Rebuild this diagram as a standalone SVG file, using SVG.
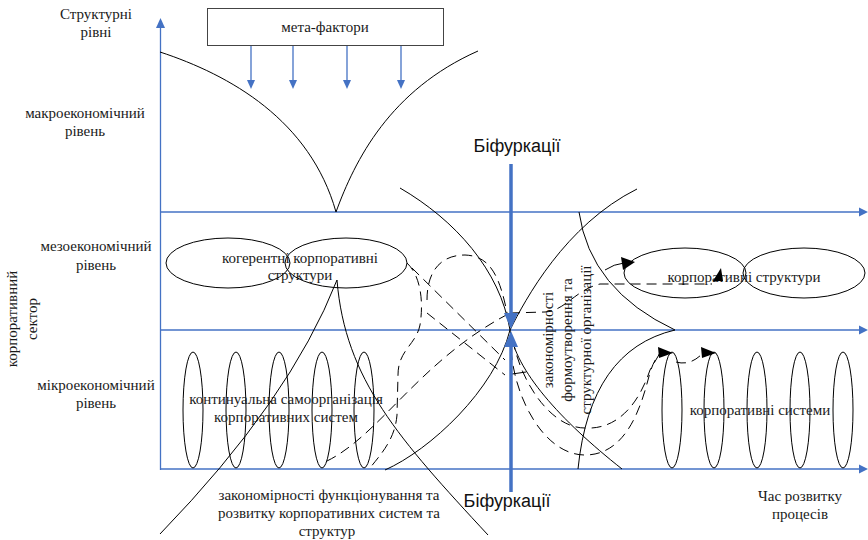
<svg xmlns="http://www.w3.org/2000/svg" width="868" height="540" viewBox="0 0 868 540">
<defs>
<style>
.t{font-family:"Liberation Serif","Times New Roman",serif;font-size:15px;fill:#1a1a1a;text-anchor:middle}
.a{font-family:"Liberation Sans",Arial,sans-serif;font-size:18px;fill:#111;text-anchor:middle}
.ax{stroke:#4472C4;stroke-width:1.3;fill:none}
.bl{fill:#4472C4;stroke:none}
.s{stroke:#000;stroke-width:1;fill:none}
.d{stroke:#000;stroke-width:1;fill:none;stroke-dasharray:10 6}
.e{stroke:#000;stroke-width:1;fill:none}
.ah{fill:#000;stroke:none}
</style>
</defs>
<rect width="868" height="540" fill="#fff"/>

<g id="axes">
<line class="ax" x1="160.5" y1="470" x2="160.5" y2="26"/>
<polygon class="bl" points="160.5,18 156,28 165,28"/>
<line class="ax" x1="160" y1="212" x2="860" y2="212"/>
<polygon class="bl" points="868,212 859,207.5 859,216.5"/>
<line class="ax" x1="160" y1="330" x2="860" y2="330"/>
<polygon class="bl" points="868,330 859,325.5 859,334.5"/>
<line class="ax" x1="160" y1="469" x2="860" y2="469"/>
<polygon class="bl" points="868,469 859,464.5 859,473.5"/>
</g>

<g id="labels">
<text class="t" x="96" y="19">Структурні</text>
<text class="t" x="96" y="37">рівні</text>
<text class="t" x="85" y="118">макроекономічний</text>
<text class="t" x="85" y="136">рівень</text>
<text class="t" x="96" y="251">мезоекономічний</text>
<text class="t" x="96" y="270">рівень</text>
<text class="t" x="96" y="390">мікроекономічний</text>
<text class="t" x="96" y="408">рівень</text>
<text class="t" transform="translate(17,319) rotate(-90)">корпоративний</text>
<text class="t" transform="translate(37,319) rotate(-90)">сектор</text>
<text class="t" x="329" y="500">закономірності функціонування та</text>
<text class="t" x="329" y="518">розвитку корпоративних систем та</text>
<text class="t" x="327" y="536">структур</text>
<text class="t" x="800" y="501">Час розвитку</text>
<text class="t" x="800" y="519">процесів</text>
<text class="t" transform="translate(553,340) rotate(-90)">закономірності</text>
<text class="t" transform="translate(572,340) rotate(-90)">формоутворення та</text>
<text class="t" transform="translate(591,340) rotate(-90)">структурної  організації</text>
<text class="a" x="517" y="152">Біфуркації</text>
<text class="a" x="507" y="507">Біфуркації</text>
</g>

<g id="meta-factors">
<rect x="207.5" y="8.5" width="236" height="37" fill="#fff" stroke="#444" stroke-width="1"/>
<text class="t" x="325" y="32">мета-фактори</text>
</g>

<g id="coherent-structures">
<ellipse class="e" cx="228" cy="263" rx="62" ry="25"/>
<ellipse class="e" cx="346" cy="263" rx="61" ry="25"/>
<text class="t" x="300" y="263">когерентні корпоративні</text>
<text class="t" x="300" y="280">структури</text>
</g>

<g id="continual-self-organization">
<ellipse class="e" cx="193" cy="410" rx="10" ry="58"/>
<ellipse class="e" cx="236" cy="410" rx="10" ry="58"/>
<ellipse class="e" cx="279" cy="410" rx="10" ry="58"/>
<ellipse class="e" cx="322" cy="410" rx="10" ry="58"/>
<ellipse class="e" cx="364" cy="410" rx="10" ry="58"/>
<text class="t" x="286" y="404">континуальна самоорганізація</text>
<text class="t" x="286" y="422">корпоративних систем</text>
</g>

<g id="corporate-structures">
<ellipse class="e" cx="685" cy="273" rx="61" ry="25"/>
<ellipse class="e" cx="804" cy="273" rx="61" ry="25"/>
<text class="t" x="744" y="282">корпоративні структури</text>
</g>

<g id="corporate-systems">
<ellipse class="e" cx="672" cy="410" rx="10" ry="58"/>
<ellipse class="e" cx="714" cy="410" rx="10" ry="58"/>
<ellipse class="e" cx="757" cy="410" rx="10" ry="58"/>
<ellipse class="e" cx="800" cy="410" rx="10" ry="58"/>
<ellipse class="e" cx="843" cy="410" rx="10" ry="58"/>
<text class="t" x="760" y="415">корпоративні системи</text>
</g>

<g id="connectors">
<g id="meta-arrows">
<line class="ax" x1="251" y1="46" x2="251" y2="82"/><polygon class="bl" points="251,89 247,80 255,80"/>
<line class="ax" x1="293" y1="46" x2="293" y2="82"/><polygon class="bl" points="293,89 289,80 297,80"/>
<line class="ax" x1="347" y1="46" x2="347" y2="82"/><polygon class="bl" points="347,89 343,80 351,80"/>
<line class="ax" x1="401" y1="46" x2="401" y2="82"/><polygon class="bl" points="401,89 397,80 405,80"/>
</g>
<g id="solid-curves">
<path class="s" d="M160,52 C230,75 310,120 336,212"/>
<path class="s" d="M336,212 C355,160 390,90 478,51"/>
<path class="s" d="M400,188 C455,220 500,270 510,330 C515,370 560,420 622,469"/>
<path class="s" d="M385,470 C430,450 495,390 510,330 C525,300 565,225 637,189"/>
<path class="s" d="M337,280 Q290,400 160,534"/>
<path class="s" d="M337,280 C345,380 400,440 488,535"/>
<path class="s" d="M579,212 Q590,290 675,330"/>
<path class="s" d="M675,330 Q590,350 578,469"/>
<path class="s" d="M512,374 L526,372"/>
<path class="s" d="M605,270 Q614,264 624,263"/>
</g>
<g id="dashed-curves">
<path class="d" d="M407,263 C420,275 424,300 420,325 C416,345 398,350 398,375 L397,415 C395,440 380,455 370,468"/>
<path class="d" d="M427,300 C427,272 440,255 465,255 C490,256 500,275 508,318"/>
<path class="d" d="M327,461 C380,435 420,360 510,313"/>
<path class="d" d="M510,313 L545,312 C565,311 575,290 600,284 L712,284"/>
<path class="d" d="M412,268 L505,360"/>
<path class="d" d="M427,313 L505,375"/>
<path class="d" d="M513,340 C520,380 550,428 585,428 C620,430 640,400 650,370 L660,353"/>
<path class="d" d="M511,350 C515,400 545,455 585,455 C625,455 640,410 648,380 C651,368 655,357 662,352"/>
<path class="d" d="M676,362 Q690,366 702,354"/>
</g>
<g id="arrowheads">
<polygon class="ah" points="635,262 621,257 623,270"/>
<polygon class="ah" points="721,268 713,281 723,281"/>
<polygon class="ah" points="673,353 658,347 659,358"/>
<polygon class="ah" points="716,353 701,347 702,358"/>
</g>
<g id="bifurcation">
<line stroke="#4472C4" stroke-width="3.5" x1="511" y1="164" x2="511" y2="314"/>
<polygon class="bl" points="511,329 504,313 518,313"/>
<line stroke="#4472C4" stroke-width="3.5" x1="511" y1="346" x2="511" y2="492"/>
<polygon class="bl" points="511,331 504,347 518,347"/>
</g>
</g>
</svg>
